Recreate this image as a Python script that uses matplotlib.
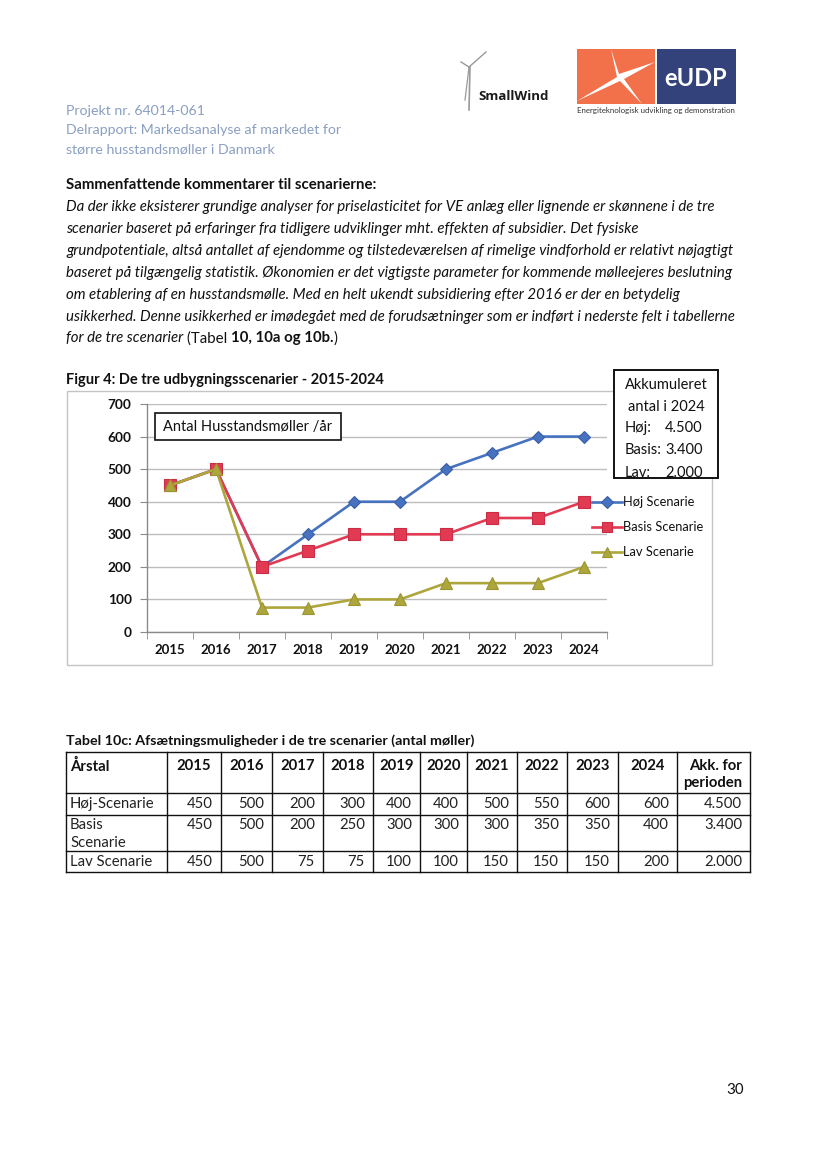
import matplotlib
matplotlib.use("Agg")
import matplotlib.pyplot as plt
from matplotlib.patches import Rectangle, Polygon
from matplotlib.lines import Line2D
from matplotlib.transforms import Bbox, TransformedBbox

plt.rcParams['font.family'] = ['Lato', 'DejaVu Sans']

# ---------------- data ----------------
years = ['2015', '2016', '2017', '2018', '2019', '2020', '2021', '2022', '2023', '2024']
hoej = [450, 500, 200, 300, 400, 400, 500, 550, 600, 600]
basis = [450, 500, 200, 250, 300, 300, 300, 350, 350, 400]
lav = [450, 500, 75, 75, 100, 100, 150, 150, 150, 200]
series_names = ['Høj Scenarie', 'Basis Scenarie', 'Lav Scenarie']
table_rows = ['Høj-Scenarie', 'Basis\nScenarie', 'Lav Scenarie']
akk = ['4.500', '3.400', '2.000']
akk_labels = ['Høj:', 'Basis:', 'Lav:']
y_ticks = [0, 100, 200, 300, 400, 500, 600, 700]

colors = ['#4672C0', '#E23A52', '#ADA63C']
edge_colors = ['#3A5FA8', '#C92D45', '#9A9433']
markers = ['D', 's', '^']
msizes = [6.5, 8.5, 8.5]

W, H = 828, 1169
fig = plt.figure(figsize=(W / 100, H / 100), dpi=100)
renderer = fig.canvas.get_renderer()


def page_axes(z):
    a = fig.add_axes([0, 0, 1, 1], zorder=z)
    a.set_xlim(0, W)
    a.set_ylim(H, 0)
    a.axis('off')
    a.patch.set_alpha(0)
    return a


bg = page_axes(0)
fg = page_axes(3)


def text_width(txt, size, **kw):
    t = bg.text(0, 0, txt, fontsize=size, **kw)
    w = t.get_window_extent(renderer).width
    t.remove()
    return w


def fit_size(txt, width, **kw):
    return 10 * width / text_width(txt, 10, **kw)


def runs(ax, x, y, parts, size, color='#111111'):
    for txt, style, weight in parts:
        t = ax.text(x, y, txt, fontsize=size, style=style, weight=weight,
                    color=color, va='center', ha='left')
        x += t.get_window_extent(renderer).width


# ---------------- header ----------------
hdr_col = '#8A9FC2'
hdr_size = fit_size('Delrapport: Markedsanalyse af markedet for', 275)
for i, line in enumerate(['Projekt nr. 64014-061',
                          'Delrapport: Markedsanalyse af markedet for',
                          'større husstandsmøller i Danmark']):
    bg.text(66, 111 + 19 * i, line, fontsize=hdr_size, color=hdr_col, va='center')

# SmallWind logo (turbine + text)
tc = '#9a9a9a'
bg.add_line(Line2D([469, 470], [110, 67], color=tc, lw=1.2))
bg.add_line(Line2D([469, 486], [67, 52], color=tc, lw=1.0))
bg.add_line(Line2D([469, 461], [67, 62], color=tc, lw=1.0))
bg.add_line(Line2D([469, 465], [67, 100], color=tc, lw=0.9))
bg.text(478, 97, 'SmallWind', fontsize=9.5, weight='bold', color='#1a1a1a', va='center',
        family=['Open Sans', 'DejaVu Sans'])

# EUDP logo
bg.add_patch(Rectangle((577, 49), 78, 55, facecolor='#F2704A', edgecolor='none'))
bg.add_patch(Rectangle((657, 49), 79, 55, facecolor='#33427A', edgecolor='none'))
cx, cy = 621, 78
star = [(611, 49), (cx - 2, cy - 4), (655, 62), (cx + 3, cy + 1), (642, 104),
        (cx - 1, cy + 3), (577, 101), (cx - 4, cy - 1)]
bg.add_patch(Polygon(star, closed=True, facecolor='white', edgecolor='none'))
bg.text(696, 79, 'eUDP', fontsize=17, weight='bold', color='white', ha='center', va='center')
tag = 'Energiteknologisk udvikling og demonstration'
bg.text(577, 111, tag, fontsize=fit_size(tag, 158), color='#333333', ha='left', va='center')

# ---------------- paragraph ----------------
para = [
    'Da der ikke eksisterer grundige analyser for priselasticitet for VE anlæg eller lignende er skønnene i de tre',
    'scenarier baseret på erfaringer fra tidligere udviklinger mht. effekten af subsidier. Det fysiske',
    'grundpotentiale, altså antallet af ejendomme og tilstedeværelsen af rimelige vindforhold er relativt nøjagtigt',
    'baseret på tilgængelig statistik. Økonomien er det vigtigste parameter for kommende mølleejeres beslutning',
    'om etablering af en husstandsmølle. Med en helt ukendt subsidiering efter 2016 er der en betydelig',
    'usikkerhed. Denne usikkerhed er imødegået med de forudsætninger som er indført i nederste felt i tabellerne',
]
psize = fit_size(para[0], 648, style='italic')
bg.text(66, 185, 'Sammenfattende kommentarer til scenarierne:', fontsize=psize,
        weight='bold', color='#111111', va='center')
for i, line in enumerate(para):
    bg.text(66, 207 + 21.9 * i, line, fontsize=psize, style='italic',
            color='#111111', va='center')
runs(bg, 66, 207 + 21.9 * 6,
     [('for de tre scenarier ', 'italic', 'normal'), ('(Tabel ', 'normal', 'normal'),
      ('10, 10a og 10b.', 'normal', 'bold'), (')', 'normal', 'normal')], psize)

# ---------------- figure 4 ----------------
tsize = fit_size('Figur 4: De tre udbygningsscenarier - 2015-2024', 318, weight='bold')
bg.text(66, 380, 'Figur 4: De tre udbygningsscenarier - 2015-2024', fontsize=tsize,
        weight='bold', color='#111111', va='center')
bg.add_patch(Rectangle((67, 391), 645, 274, facecolor='white', edgecolor='#C4C4C4', lw=1.0))

ax_l, ax_r, ax_b, ax_t = 147, 607, 632, 404
ax = fig.add_axes([ax_l / W, 1 - ax_b / H, (ax_r - ax_l) / W, (ax_b - ax_t) / H], zorder=1)
ax.patch.set_alpha(0)
x = list(range(len(years)))
for vals, c, ec, m, ms in zip([hoej, basis, lav], colors, edge_colors, markers, msizes):
    ax.plot(x, vals, color=c, lw=1.9, marker=m, markersize=ms, markerfacecolor=c,
            markeredgecolor=ec, markeredgewidth=0.8, clip_on=False)
ax.set_xlim(-0.5, len(years) - 0.5)
ax.set_ylim(0, 700)
ax.set_yticks(y_ticks)
ax.set_yticklabels([str(v) for v in y_ticks])
ax.set_xticks(x)
ax.set_xticklabels(years)
ax.set_xticks([i - 0.5 for i in range(len(years) + 1)], minor=True)
ax.tick_params(axis='x', which='major', length=0, pad=9, labelsize=9.5, labelcolor='#111111')
ax.tick_params(axis='x', which='minor', length=5, color='#8a8a8a', direction='out')
ax.tick_params(axis='y', length=5, color='#8a8a8a', pad=6, labelsize=9.8, labelcolor='#111111')
for lab in ax.get_yticklabels():
    lab.set_fontweight('bold')
for lab in ax.get_xticklabels():
    lab.set_fontweight('bold')
ax.grid(axis='y', color='#BDBDBD', lw=1.0)
ax.set_axisbelow(True)
for s in ['top', 'right']:
    ax.spines[s].set_visible(False)
for s in ['left', 'bottom']:
    ax.spines[s].set_color('#8a8a8a')
    ax.spines[s].set_linewidth(1.0)

# "Antal Husstandsmøller /år" box
fg.add_patch(Rectangle((155, 413), 186, 27, facecolor='white', edgecolor='#111111', lw=1.2))
fg.text(163, 427, 'Antal Husstandsmøller /år', fontsize=10.5, color='#111111', va='center')

# Akkumuleret box
fg.add_patch(Rectangle((614, 370), 104, 108, facecolor='white', edgecolor='#111111', lw=1.4))
fg.text(666, 385, 'Akkumuleret', fontsize=10.5, color='#111111', ha='center', va='center')
fg.text(666, 407, 'antal i 2024', fontsize=10.5, color='#111111', ha='center', va='center')
clip = TransformedBbox(Bbox([[614 / W, 1 - 477 / H], [718 / W, 1 - 370 / H]]), fig.transFigure)
for i, (lab, val) in enumerate(zip(akk_labels, akk)):
    yy = 428 + 22.5 * i
    for xx, s in [(625, lab), (665, val)]:
        t = fg.text(xx, yy, s, fontsize=10.5, color='#111111', va='center')
        t.set_clip_box(clip)
        t.set_clip_on(True)

# legend
for i, (name, c, ec, m, ms) in enumerate(zip(series_names, colors, edge_colors, markers, msizes)):
    yy = 502 + 25 * i
    fg.add_line(Line2D([592, 622], [yy, yy], color=c, lw=1.9))
    fg.add_line(Line2D([607], [yy], marker=m, markersize=ms * 0.9, color=c, markeredgecolor=ec,
                       markeredgewidth=0.8, linestyle='none'))
    fg.text(623, yy, name, fontsize=9.3, color='#111111', va='center')

# ---------------- table 10c ----------------
tbsize = fit_size('Tabel 10c: Afsætningsmuligheder i de tre scenarier (antal møller)', 409, weight='bold')
bg.text(66, 741, 'Tabel 10c: Afsætningsmuligheder i de tre scenarier (antal møller)',
        fontsize=tbsize, weight='bold', color='#111111', va='center')

col_x = [66, 167, 221, 272, 323, 373, 420, 467, 517, 567, 618, 677, 750]
row_y = [752, 793, 815, 851, 872]
for xx in col_x:
    bg.add_line(Line2D([xx, xx], [row_y[0], row_y[-1]], color='#111111', lw=1.0))
for yy in row_y:
    bg.add_line(Line2D([col_x[0], col_x[-1]], [yy, yy], color='#111111', lw=1.0))

csize = fit_size('Høj-Scenarie', 85)
bg.text(70, 766, 'Årstal', fontsize=csize, weight='bold', color='#111111', va='center')
for j, yr in enumerate(years):
    bg.text((col_x[j + 1] + col_x[j + 2]) / 2, 766, yr, fontsize=csize, weight='bold',
            color='#111111', ha='center', va='center')
bg.text(col_x[-1] - 8, 766, 'Akk. for', fontsize=csize, weight='bold', color='#111111',
        ha='right', va='center')
bg.text(col_x[-1] - 8, 783, 'perioden', fontsize=csize, weight='bold', color='#111111',
        ha='right', va='center')

row_text_y = [804, 825, 862]
for r, (label, vals, total) in enumerate(zip(table_rows, [hoej, basis, lav], akk)):
    yy = row_text_y[r]
    for k, part in enumerate(label.split('\n')):
        bg.text(70, yy + 18 * k, part, fontsize=csize, color='#222222', va='center')
    for j, v in enumerate(vals):
        bg.text(col_x[j + 2] - 8, yy, str(v), fontsize=csize, color='#222222',
                ha='right', va='center')
    bg.text(col_x[-1] - 8, yy, total, fontsize=csize, color='#222222', ha='right', va='center')

# page number
bg.text(735, 1090, '30', fontsize=psize, color='#111111', ha='center', va='center')

fig.savefig('out.png', dpi=100)
